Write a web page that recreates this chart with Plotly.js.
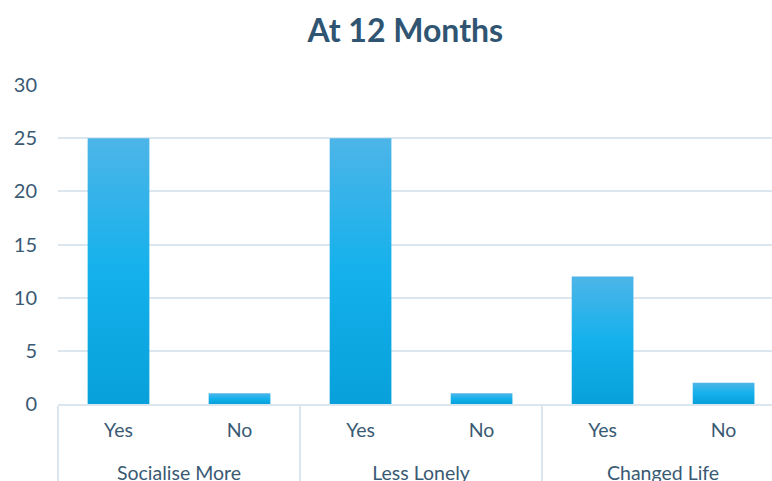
<!DOCTYPE html>
<html>
<head>
<meta charset="utf-8">
<script src="https://cdn.plot.ly/plotly-3.0.1.min.js"></script>
<style>html,body{margin:0;padding:0;background:#fff}#chart{width:772px;height:481px}</style>
</head>
<body>
<div id="chart"></div>
<script>
const groups = ["Socialise More", "Socialise More", "Less Lonely", "Less Lonely", "Changed Life", "Changed Life"];
const answers = ["Yes", "No", "Yes", "No", "Yes", "No"];
const counts = [25, 1, 25, 1, 12, 2];
const yTicks = [0, 5, 10, 15, 20, 25, 30];

const textColor = "#3A5A74";
const gridColor = "#DCE6EF";

// add an empty line under each answer label so the group row sits lower, as in the reference
const answerLabels = answers.map(function (a) { return a + "<br>&nbsp;"; });

const trace = {
  type: "bar",
  x: [groups, answerLabels],
  y: counts,
  marker: {color: "#14AEE9", line: {width: 0}},
  hoverinfo: "none"
};

const layout = {
  width: 772, height: 481,
  margin: {l: 58, r: 0, t: 85, b: 77},
  paper_bgcolor: "#fff", plot_bgcolor: "#fff",
  font: {family: "Lato, 'Open Sans', sans-serif", color: textColor, size: 19},
  title: {text: "<b>At 12 Months</b>", font: {size: 32, color: "#2F5572", family: "Lato, sans-serif"},
          x: 0.525, xref: "container", xanchor: "center", y: 0.935, yref: "container", yanchor: "middle"},
  bargap: 0.49,
  showlegend: false,
  xaxis: {
    type: "multicategory",
    range: [-0.5, 5.4],
    showgrid: false,
    showline: true, linecolor: gridColor, linewidth: 2,
    showdividers: true, dividercolor: gridColor, dividerwidth: 2,
    ticks: "", ticklabelstandoff: 8,
    tickfont: {size: 19.5, color: textColor},
    zeroline: false
  },
  yaxis: {
    range: [0, 30],
    tickvals: yTicks,
    showgrid: true, gridcolor: gridColor, gridwidth: 2,
    zeroline: false, showline: false,
    ticks: "", ticklabelstandoff: 20,
    tickfont: {size: 20, color: textColor}
  }
};

Plotly.newPlot("chart", [trace], layout, {staticPlot: true}).then(function (gd) {
  const svg = gd.querySelector("svg.main-svg");
  const ns = "http://www.w3.org/2000/svg";
  let defs = svg.querySelector("defs");
  if (!defs) { defs = document.createElementNS(ns, "defs"); svg.insertBefore(defs, svg.firstChild); }
  const grad = document.createElementNS(ns, "linearGradient");
  grad.setAttribute("id", "barGrad");
  grad.setAttribute("x1", "0"); grad.setAttribute("y1", "0");
  grad.setAttribute("x2", "0"); grad.setAttribute("y2", "1");
  [["0", "#4DB5E8"], ["0.5", "#14B1EC"], ["1", "#07A0DA"]].forEach(function (s) {
    const st = document.createElementNS(ns, "stop");
    st.setAttribute("offset", s[0]); st.setAttribute("stop-color", s[1]);
    grad.appendChild(st);
  });
  defs.appendChild(grad);
  gd.querySelectorAll(".bars .point path").forEach(function (p) {
    p.style.fill = "url(#barGrad)";
  });
});
</script>
</body>
</html>
